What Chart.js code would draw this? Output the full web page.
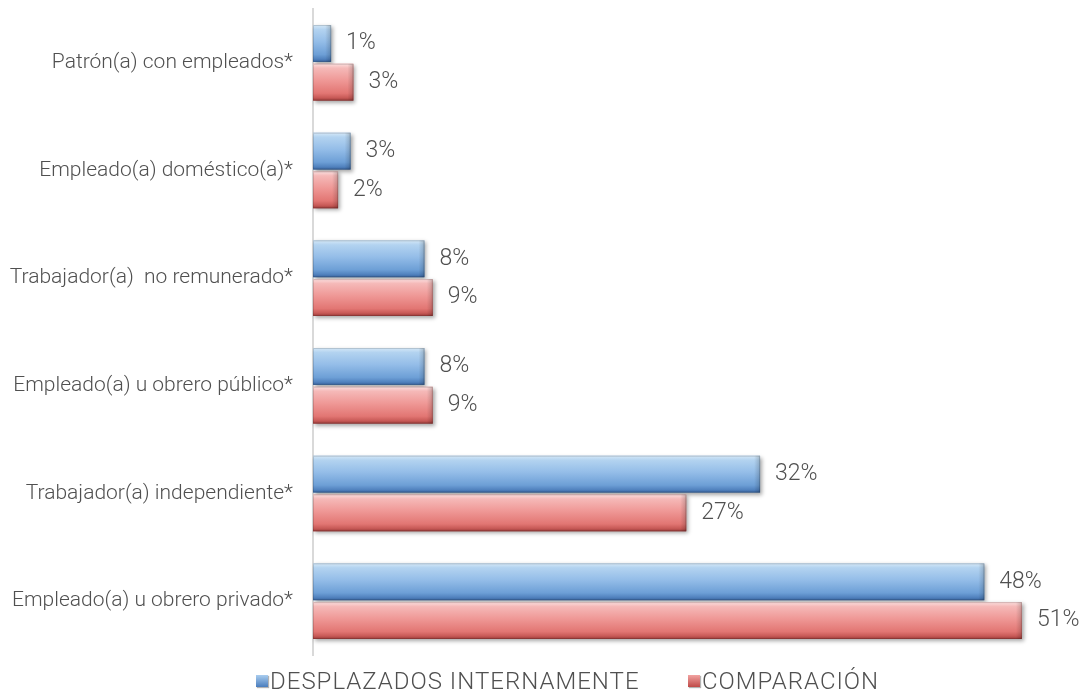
<!DOCTYPE html>
<html>
<head>
<meta charset="utf-8">
<script src="https://cdn.jsdelivr.net/npm/chart.js@4"></script>
<style>
  html, body { margin: 0; padding: 0; background: #fff; }
  #wrap { position: relative; width: 1089px; height: 694px; }
  #legend { position: absolute; left: 0; top: 668px; width: 1089px; height: 26px; font-family: 'Roboto', 'Liberation Sans', sans-serif; font-weight: 300; font-size: 24px; letter-spacing: 1px; color: #505050; }
  .item { position: absolute; top: 0; height: 26px; display: flex; align-items: center; white-space: nowrap; }
  .box { width: 12px; height: 12px; margin-right: 2px; box-shadow: 1px 1px 1px rgba(0,0,0,0.3); }
</style>
</head>
<body>
<div id="wrap">
  <canvas id="chart" width="1089" height="694"></canvas>
  <div id="legend">
    <div class="item" style="left:256px"><span class="box" style="background:linear-gradient(#a9cdef,#4a7dbd)"></span>DESPLAZADOS INTERNAMENTE</div>
    <div class="item" style="left:688px"><span class="box" style="background:linear-gradient(#f2a3a1,#bf4a47)"></span>COMPARACIÓN</div>
  </div>
</div>
<script>
// categorias (de arriba hacia abajo)
const categorias = [
  "Patrón(a) con empleados*",
  "Empleado(a) doméstico(a)*",
  "Trabajador(a)  no remunerado*",
  "Empleado(a) u obrero público*",
  "Trabajador(a) independiente*",
  "Empleado(a) u obrero privado*"
];
const desplazados = [1.3, 2.7, 8.0, 8.0, 32.1, 48.2];   // DESPLAZADOS INTERNAMENTE (%)
const comparacion = [2.9, 1.8, 8.6, 8.6, 26.8, 50.9];   // COMPARACIÓN (%)
const serieNombres = ["DESPLAZADOS INTERNAMENTE", "COMPARACIÓN"];

const fuente = "'Roboto', 'Liberation Sans', sans-serif";

const gradStops = [
  [[0, '#d5e8f7'], [0.12, '#b3d3f0'], [0.45, '#94bde8'], [0.8, '#6d9fd6'], [0.92, '#5283bf'], [1, '#3a65a0']],
  [[0, '#fbdede'], [0.12, '#f5b9b8'], [0.45, '#ef9896'], [0.8, '#e27673'], [0.92, '#c85a57'], [1, '#9c3c3a']]
];

// barras con degradado y sombra, encima de las barras planas
const barrasPlugin = {
  id: 'barras3d',
  afterDatasetsDraw(chart) {
    const ctx = chart.ctx;
    chart.data.datasets.forEach((ds, di) => {
      const meta = chart.getDatasetMeta(di);
      meta.data.forEach((bar) => {
        const p = bar.getProps(['x', 'y', 'base', 'height'], true);
        const top = p.y - p.height / 2;
        const w = p.x - p.base;
        const g = ctx.createLinearGradient(0, top, 0, top + p.height);
        gradStops[di].forEach(s => g.addColorStop(s[0], s[1]));
        ctx.save();
        ctx.shadowColor = 'rgba(0,0,0,0.35)';
        ctx.shadowBlur = 4;
        ctx.shadowOffsetX = 2;
        ctx.shadowOffsetY = 2;
        ctx.fillStyle = g;
        ctx.fillRect(p.base, top, w, p.height);
        ctx.restore();
        // borde derecho mas oscuro
        ctx.save();
        const g2 = ctx.createLinearGradient(p.x - 6, 0, p.x, 0);
        g2.addColorStop(0, 'rgba(0,0,0,0)');
        g2.addColorStop(1, 'rgba(0,0,0,0.18)');
        ctx.fillStyle = g2;
        ctx.fillRect(Math.max(p.base, p.x - 6), top, Math.min(6, w), p.height);
        ctx.strokeStyle = 'rgba(0,0,0,0.15)';
        ctx.lineWidth = 1;
        ctx.strokeRect(p.base + 0.5, top + 0.5, w - 1, p.height - 1);
        ctx.restore();
      });
    });
    // etiquetas de valor
    ctx.save();
    ctx.font = '300 23px ' + fuente;
    ctx.fillStyle = '#505050';
    ctx.textAlign = 'left';
    ctx.textBaseline = 'middle';
    chart.data.datasets.forEach((ds, di) => {
      chart.getDatasetMeta(di).data.forEach((bar, i) => {
        ctx.fillText(Math.round(ds.data[i]) + '%', bar.x + 15, bar.y);
      });
    });
    ctx.restore();
  }
};

new Chart(document.getElementById('chart'), {
  type: 'bar',
  data: {
    labels: categorias,
    datasets: [
      { label: serieNombres[0], data: desplazados, backgroundColor: '#8cb6e3' },
      { label: serieNombres[1], data: comparacion, backgroundColor: '#ea8482' }
    ]
  },
  options: {
    indexAxis: 'y',
    responsive: false,
    animation: false,
    layout: { padding: { left: 0, right: 10, top: 9, bottom: 39 } },
    categoryPercentage: 0.72,
    barPercentage: 0.95,
    plugins: {
      legend: { display: false },
      tooltip: { enabled: false }
    },
    scales: {
      x: { display: false, min: 0, max: 55 },
      y: {
        grid: { display: false, drawTicks: false },
        border: { display: true, color: '#d9d9d9', width: 2 },
        ticks: { padding: 20, color: '#505050', font: { family: fuente, size: 21, weight: 300 } },
        afterFit(scale) {
          scale.width = 313;
          scale.paddingTop = 0;
          scale.paddingBottom = 0;
        }
      }
    }
  },
  plugins: [barrasPlugin]
});
</script>
</body>
</html>
